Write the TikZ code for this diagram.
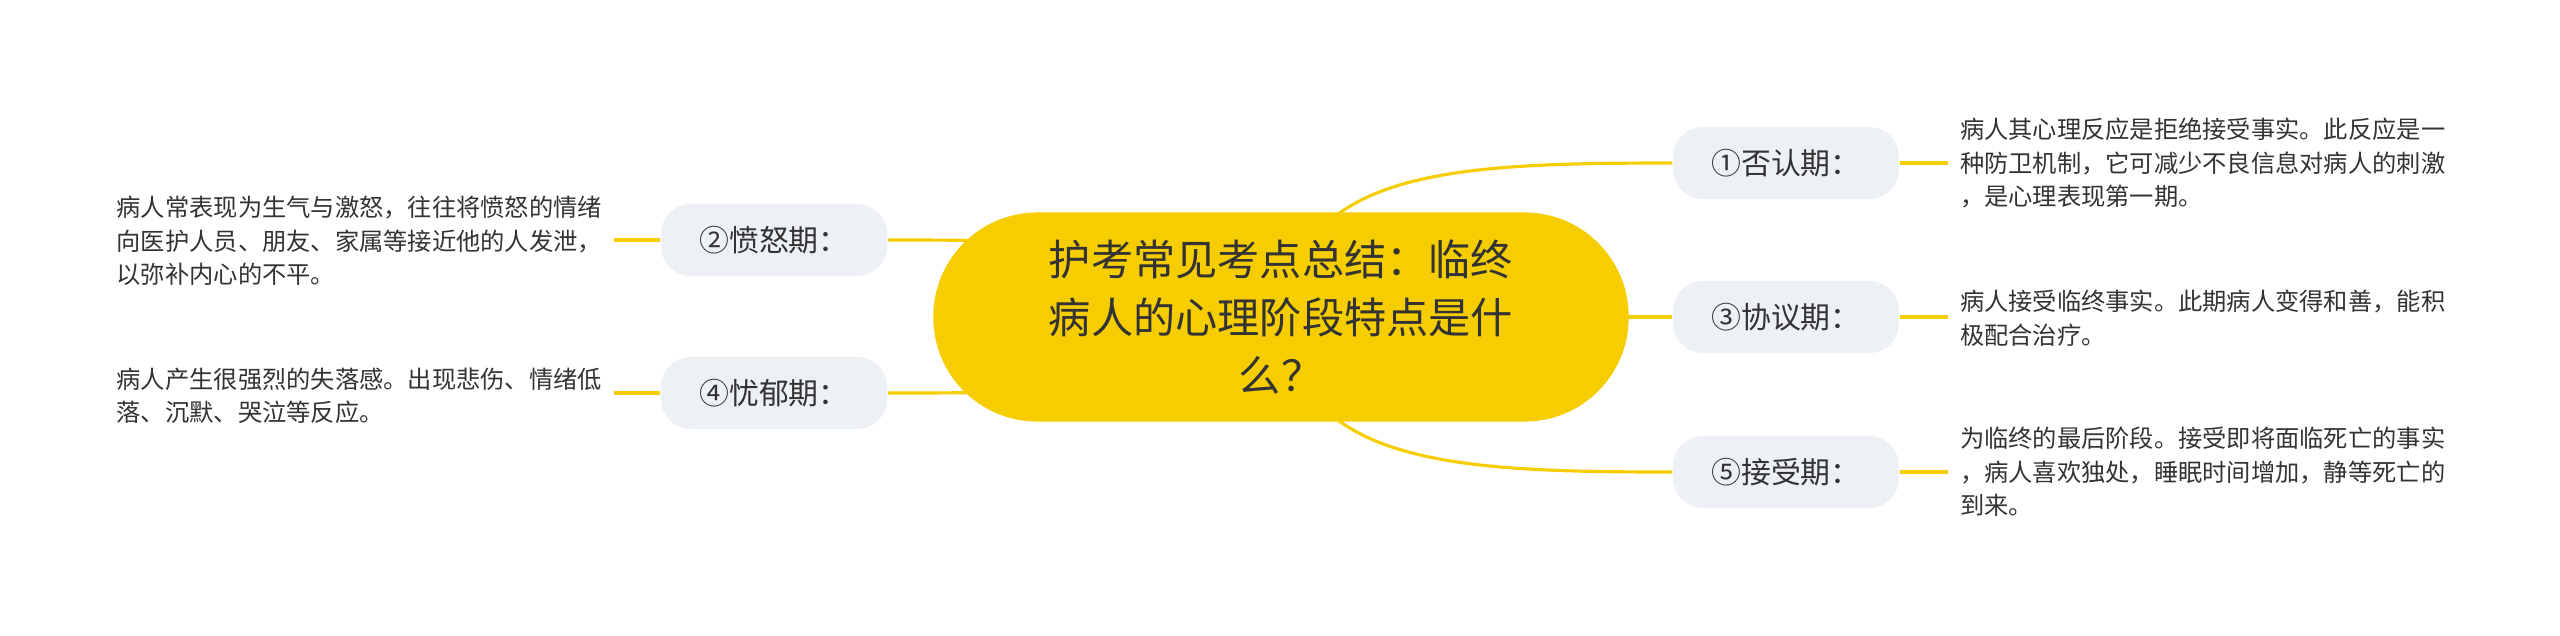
\documentclass[tikz,border=0pt]{standalone}
\usepackage{fontspec}
\setmainfont{Noto Sans CJK SC}
\usetikzlibrary{backgrounds}
\definecolor{rootyellow}{RGB}{245,205,0}
\definecolor{branchgrey}{RGB}{237,240,244}
\definecolor{inkgrey}{RGB}{51,51,51}

\begin{document}
\begin{tikzpicture}[x=0.01cm,y=-0.01cm]
	\tikzstyle{every node}+=[text=inkgrey]
	\tikzstyle{root}=[fill=rootyellow, rounded corners=1.04cm, minimum width=6.95cm, minimum height=2.09cm, inner sep=0pt, align=center, font=\fontsize{12}{16.5}\selectfont]
	\tikzstyle{branch}=[fill=branchgrey, rounded corners=0.3cm, minimum width=2.26cm, minimum height=0.72cm, inner sep=0pt, font=\fontsize{8.5}{10}\selectfont]
	\tikzstyle{leaf}=[inner sep=0pt, outer sep=0.12cm, align=left, font=\fontsize{6.9}{9.5}\selectfont]
	\tikzstyle{link}=[draw=rootyellow, line width=0.9pt]
	\useasboundingbox (0,0) rectangle (2560,635);
	% centre
	\node [root] (root) at (1281,317) {护考常见考点总结：临终\\病人的心理阶段特点是什\\么？};
	% stages
	\node [branch] (denial) at (1786,163) {①否认期：};
	\node [branch] (anger) at (774,240) {②愤怒期：};
	\node [branch] (bargain) at (1786,317) {③协议期：};
	\node [branch] (depress) at (774,393) {④忧郁期：};
	\node [branch] (accept) at (1786,472) {⑤接受期：};
	% notes
	\node [leaf, anchor=west] (denialnote) at (1948,163) {病人其心理反应是拒绝接受事实。此反应是一\\种防卫机制，它可减少不良信息对病人的刺激\\，是心理表现第一期。};
	\node [leaf, anchor=east] (angernote) at (614,241) {病人常表现为生气与激怒，往往将愤怒的情绪\\向医护人员、朋友、家属等接近他的人发泄，\\以弥补内心的不平。};
	\node [leaf, anchor=west] (bargainnote) at (1948,318) {病人接受临终事实。此期病人变得和善，能积\\极配合治疗。};
	\node [leaf, anchor=east] (depressnote) at (614,396) {病人产生很强烈的失落感。出现悲伤、情绪低\\落、沉默、哭泣等反应。};
	\node [leaf, anchor=west] (acceptnote) at (1948,472) {为临终的最后阶段。接受即将面临死亡的事实\\，病人喜欢独处，睡眠时间增加，静等死亡的\\到来。};
	\begin{pgfonlayer}{background}
		\draw [link] (root.center) .. controls +(19,-147) and +(-223,0) .. (denial.west);
		\draw [link] (root.center) -- (bargain.west);
		\draw [link] (root.center) .. controls +(19,147) and +(-223,0) .. (accept.west);
		\draw [link] (root.center) .. controls +(-40,-77) and +(150,0) .. (anger.east);
		\draw [link] (root.center) .. controls +(-40,76) and +(150,0) .. (depress.east);
	\end{pgfonlayer}
	\draw [link] (denial.east) -- (denial.east -| denialnote.west);
	\draw [link] (bargain.east) -- (bargain.east -| bargainnote.west);
	\draw [link] (accept.east) -- (accept.east -| acceptnote.west);
	\draw [link] (anger.west) -- (anger.west -| angernote.east);
	\draw [link] (depress.west) -- (depress.west -| depressnote.east);
\end{tikzpicture}
\end{document}
